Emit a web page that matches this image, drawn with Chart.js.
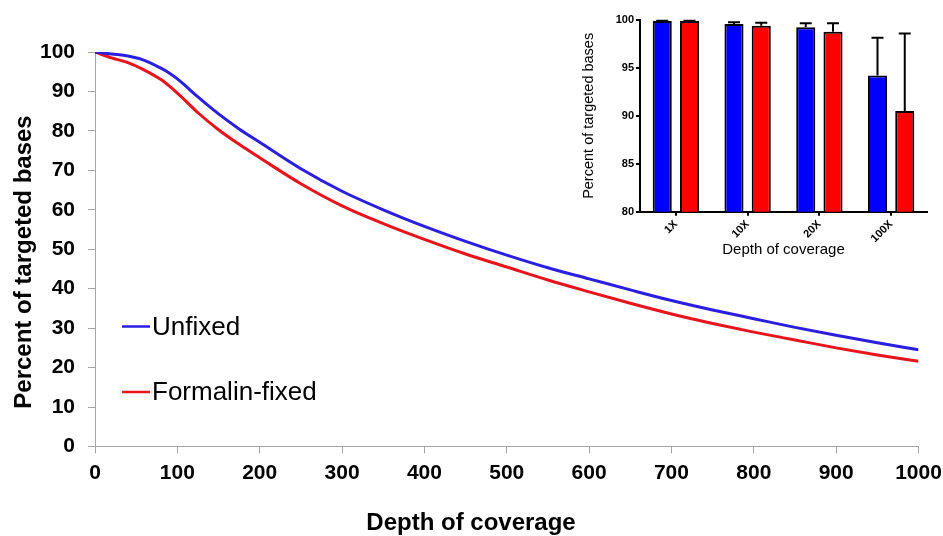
<!DOCTYPE html>
<html><head><meta charset="utf-8">
<script src="https://cdn.jsdelivr.net/npm/chart.js@4"></script>
<style>
html,body{margin:0;padding:0;background:#fff;}
#wrap{position:relative;width:943px;height:536px;overflow:hidden;}
#main{position:absolute;left:0;top:0;}
#inset{position:absolute;left:570px;top:0;}
</style></head><body>
<div id="wrap"><canvas id="main" width="943" height="536"></canvas><canvas id="inset" width="373" height="270"></canvas></div>
<script>
// ---- Main chart data ----
const depth = [0,20,40,60,80,90,100,110,125,150,175,200,250,300,350,400,450,500,550,600,650,700,750,800,850,900,950,1000];
const unfixed = [100,99.5,99.0,97.9,95.9,94.7,93.2,91.4,88.6,84.3,80.5,77.1,70.4,64.7,60.0,55.8,52.0,48.5,45.3,42.5,39.7,37.0,34.6,32.4,30.2,28.2,26.3,24.5];
const formalinFixed = [100,98.5,97.3,95.4,93.0,91.4,89.6,87.6,84.6,80.3,76.6,73.2,66.6,61.0,56.5,52.5,48.8,45.5,42.2,39.2,36.3,33.6,31.2,29.0,27.0,25.0,23.2,21.6];
const seriesNames = ['Unfixed','Formalin-fixed'];
const mainXTitle = 'Depth of coverage';
const mainYTitle = 'Percent of targeted bases';

// ---- Inset chart data ----
const insetCategories = ['1X','10X','20X','100X'];
const insetUnfixed = [99.9,99.58,99.24,94.2];
const insetUnfixedErr = [0.03,0.18,0.41,3.95];
const insetFormalin = [99.9,99.41,98.78,90.5];
const insetFormalinErr = [0.03,0.31,0.87,8.1];
const insetXTitle = 'Depth of coverage';
const insetYTitle = 'Percent of targeted bases';

const F = '"Liberation Sans", Arial, Helvetica, sans-serif';

const inlineLegend = {
  id: 'inlineLegend',
  afterDatasetsDraw(chart) {
    const ctx = chart.ctx;
    const pos = [[122, 150, 326.5], [122, 150, 392]];
    chart.data.datasets.forEach((ds, i) => {
      const [x0, x1, y] = pos[i];
      ctx.save();
      ctx.strokeStyle = ds.borderColor; ctx.lineWidth = 2.5;
      ctx.beginPath(); ctx.moveTo(x0, y); ctx.lineTo(x1, y); ctx.stroke();
      ctx.fillStyle = '#000'; ctx.font = '26px ' + F;
      ctx.textBaseline = 'middle'; ctx.textAlign = 'left';
      ctx.fillText(ds.label, x1 + 2, y + 1);
      ctx.restore();
    });
  }
};
const axisTitles = {
  id: 'axisTitles',
  afterDraw(chart) {
    const ctx = chart.ctx;
    ctx.save();
    ctx.fillStyle = '#000'; ctx.font = 'bold 24px ' + F;
    ctx.textAlign = 'center'; ctx.textBaseline = 'middle';
    ctx.fillText(mainXTitle, 471, 523);
    ctx.translate(24, 262);
    ctx.rotate(-Math.PI / 2);
    ctx.fillText(mainYTitle, 0, 0);
    ctx.restore();
  }
};

new Chart(document.getElementById('main'), {
  type: 'line',
  data: {
    datasets: [
      { label: seriesNames[0], data: depth.map((x, i) => ({x, y: unfixed[i]})), borderColor: '#2a1ee0', borderWidth: 3, pointRadius: 0, cubicInterpolationMode: 'monotone', fill: false },
      { label: seriesNames[1], data: depth.map((x, i) => ({x, y: formalinFixed[i]})), borderColor: '#e8141c', borderWidth: 3, pointRadius: 0, cubicInterpolationMode: 'monotone', fill: false }
    ]
  },
  options: {
    responsive: false, animation: false, devicePixelRatio: 1,
    layout: { padding: { top: 52, right: 24.5, left: 0, bottom: 0 } },
    plugins: { legend: { display: false }, tooltip: { enabled: false } },
    scales: {
      x: {
        type: 'linear', min: 0, max: 1000,
        ticks: { stepSize: 100, color: '#000', font: { family: F, size: 21, weight: 'bold' }, padding: 7, maxRotation: 0, callback: v => String(v) },
        grid: { drawOnChartArea: false, drawTicks: true, tickLength: 7, color: '#a6a6a6' },
        border: { color: '#a6a6a6', width: 1 },
        afterFit(s) { s.height = 89.5; s.paddingLeft = 0; s.paddingRight = 0; }
      },
      y: {
        min: 0, max: 100,
        ticks: { stepSize: 10, color: '#000', font: { family: F, size: 21, weight: 'bold' }, padding: 13, callback: v => String(v) },
        grid: { drawOnChartArea: false, drawTicks: true, tickLength: 7, color: '#a6a6a6' },
        border: { color: '#a6a6a6', width: 1 },
        afterFit(s) { s.width = 95; s.paddingTop = 0; s.paddingBottom = 0; }
      }
    }
  },
  plugins: [inlineLegend, axisTitles]
});

const errorBars = {
  id: 'errorBars',
  afterDatasetsDraw(chart) {
    const ctx = chart.ctx, ys = chart.scales.y;
    chart.data.datasets.forEach((ds, i) => {
      const meta = chart.getDatasetMeta(i);
      meta.data.forEach((bar, j) => {
        const v = ds.data[j], e = ds.errors[j];
        const yT = ys.getPixelForValue(v), yE = ys.getPixelForValue(v + e);
        ctx.save();
        ctx.strokeStyle = '#000'; ctx.lineWidth = 2;
        ctx.beginPath();
        ctx.moveTo(bar.x, yT); ctx.lineTo(bar.x, yE);
        ctx.moveTo(bar.x - 6, yE); ctx.lineTo(bar.x + 6, yE);
        ctx.stroke();
        ctx.restore();
      });
    });
  }
};

new Chart(document.getElementById('inset'), {
  type: 'bar',
  data: {
    labels: insetCategories,
    datasets: [
      { label: seriesNames[0], data: insetUnfixed, errors: insetUnfixedErr, backgroundColor: '#0000ff', borderColor: '#000', borderWidth: 2, borderSkipped: false, categoryPercentage: 0.76, barPercentage: 0.7 },
      { label: seriesNames[1], data: insetFormalin, errors: insetFormalinErr, backgroundColor: '#ff0000', borderColor: '#000', borderWidth: 2, borderSkipped: false, categoryPercentage: 0.76, barPercentage: 0.7 }
    ]
  },
  options: {
    responsive: false, animation: false, devicePixelRatio: 1,
    layout: { padding: { top: 20, right: 16, left: 0, bottom: 0 } },
    plugins: { legend: { display: false }, tooltip: { enabled: false } },
    scales: {
      x: {
        ticks: { color: '#000', font: { family: F, size: 11, weight: 'bold' }, minRotation: 45, maxRotation: 45, padding: 2 },
        grid: { offset: false, drawOnChartArea: false, drawTicks: true, tickLength: 4, color: '#000', lineWidth: 2 },
        border: { color: '#000', width: 2 },
        title: { display: true, text: insetXTitle, color: '#000', font: { family: F, size: 15 }, padding: { top: 0, bottom: 11 } },
        afterFit(s) { s.height = 58.3; }
      },
      y: {
        min: 80, max: 100,
        ticks: { stepSize: 5, color: '#000', font: { family: F, size: 11, weight: 'bold' }, padding: 2 },
        grid: { drawOnChartArea: false, drawTicks: true, tickLength: 4, color: '#000', lineWidth: 2 },
        border: { color: '#000', width: 2 },
        title: { display: true, text: insetYTitle, color: '#000', font: { family: F, size: 14.5 }, padding: { top: 10, bottom: 0 } },
        afterFit(s) { s.width = 70; }
      }
    }
  },
  plugins: [errorBars]
});
</script>
</body></html>
